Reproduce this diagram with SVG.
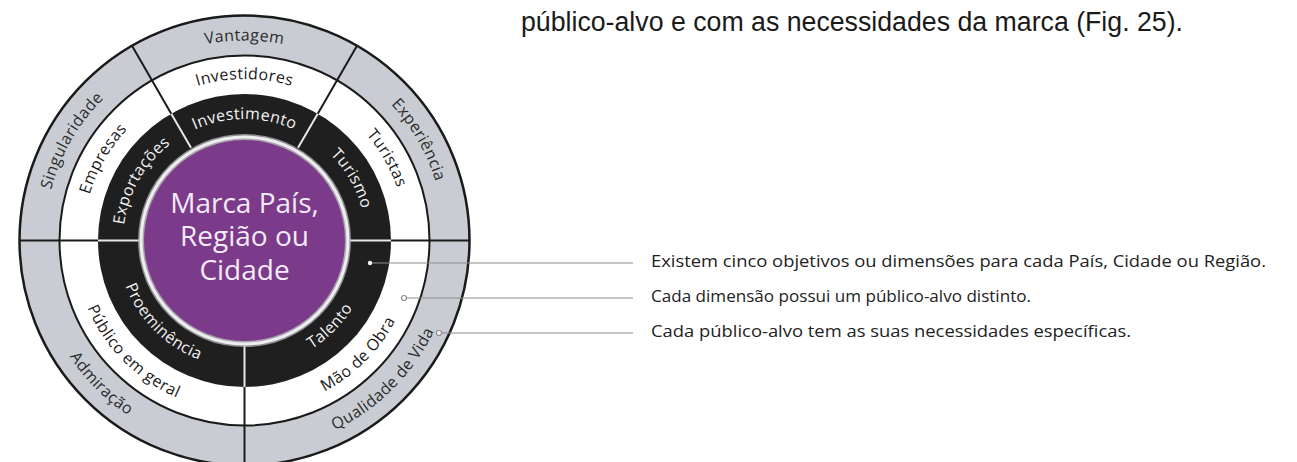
<svg xmlns="http://www.w3.org/2000/svg" width="1297" height="462" viewBox="0 0 1297 462">
<style>
.ring{font-family:"Open Sans","DejaVu Sans",sans-serif;font-size:16px;letter-spacing:0.4px}
.g{fill:#2b2b2b}
.w{fill:#1a1a1a}
.b{fill:#f2f2f2}
.center{font-family:"Open Sans","DejaVu Sans",sans-serif;font-size:28px;fill:#f3ebf6;text-anchor:middle}
.note{font-family:"Open Sans","DejaVu Sans",sans-serif;font-size:16.5px;fill:#222}
.head{font-family:"Liberation Sans",Arial,sans-serif;font-size:27px;fill:#1a1a1a}
.lead{stroke:#8c8c8c;stroke-width:1.2;fill:none}
.divk{stroke:#1a1a1a;stroke-width:2}
.divw{stroke:#e8e8e8;stroke-width:2}
</style>
<defs>
<path id="pg0" d="M -187.94 -68.40 A 200 200 0 0 1 187.94 -68.40"/>
<path id="pgL" d="M -153.2 128.56 A 200 200 0 0 1 34.72 -196.96"/>
<path id="pgR" d="M -34.72 -196.96 A 200 200 0 0 1 153.2 128.56"/>
<path id="pgBR" d="M -88.75 190.32 A 210 210 0 0 0 190.32 -88.75"/>
<path id="pgBL" d="M -190.32 -88.75 A 210 210 0 0 0 88.75 190.32"/>
<path id="pw0" d="M -151.76 -55.23 A 161.5 161.5 0 0 1 151.76 -55.23"/>
<path id="pwL" d="M -123.71 103.81 A 161.5 161.5 0 0 1 28.04 -159.05"/>
<path id="pwR" d="M -28.04 -159.05 A 161.5 161.5 0 0 1 123.71 103.81"/>
<path id="pwBR" d="M -72.26 154.98 A 171 171 0 0 0 154.98 -72.26"/>
<path id="pwBL" d="M -154.98 -72.26 A 171 171 0 0 0 72.26 154.98"/>
<path id="pb0" d="M -114.17 -41.55 A 121.5 121.5 0 0 1 114.17 -41.55"/>
<path id="pbL" d="M -93.07 78.10 A 121.5 121.5 0 0 1 21.09 -119.66"/>
<path id="pbR" d="M -21.09 -119.66 A 121.5 121.5 0 0 1 93.07 78.10"/>
<path id="pbBR" d="M -53.88 115.55 A 127.5 127.5 0 0 0 115.55 -53.88"/>
<path id="pbBL" d="M -115.55 -53.88 A 127.5 127.5 0 0 0 53.88 115.55"/>
</defs>

<text class="head" x="521" y="31" textLength="662" lengthAdjust="spacingAndGlyphs">público-alvo e com as necessidades da marca (Fig. 25).</text>

<g transform="translate(244.5 240.5)">
<g id="rings">
<circle r="225" fill="#c9cdd3" stroke="#1a1a1a" stroke-width="2.5"/>
<circle r="185" fill="#ffffff" stroke="#1a1a1a" stroke-width="2"/>
<circle r="146.5" fill="#1f1f1f"/>
<circle r="106.5" fill="#8e8e94"/>
<circle r="105" fill="#eeeef0"/>
<circle r="102" fill="#a9a3ad"/>
</g>
<g id="connectors-dividers">
<line class="divw" x1="-53.5" y1="-92.66" x2="-73.25" y2="-126.87"/>
<line class="divk" x1="-73.25" y1="-126.87" x2="-112.5" y2="-194.86"/>
<line class="divw" x1="53.5" y1="-92.66" x2="73.25" y2="-126.87"/>
<line class="divk" x1="73.25" y1="-126.87" x2="112.5" y2="-194.86"/>
<line class="divw" x1="106" y1="0" x2="146.5" y2="0"/>
<line class="divk" x1="146.5" y1="0" x2="225" y2="0"/>
<line class="divw" x1="-106" y1="0" x2="-146.5" y2="0"/>
<line class="divk" x1="-146.5" y1="0" x2="-225" y2="0"/>
<line class="divw" x1="0" y1="106" x2="0" y2="146.5"/>
<line class="divk" x1="0" y1="146.5" x2="0" y2="225"/>
</g>
<g id="center-node">
<circle r="100.5" fill="#7b3a8a"/>
<text class="center" x="0" y="-27.5">Marca País,</text>
<text class="center" x="0" y="5.5">Região ou</text>
<text class="center" x="0" y="39.5">Cidade</text>
</g>
<g id="sector-top">
<text class="ring g" text-anchor="middle"><textPath href="#pg0" startOffset="50%">Vantagem</textPath></text>
<text class="ring w" text-anchor="middle"><textPath href="#pw0" startOffset="50%">Investidores</textPath></text>
<text class="ring b" text-anchor="middle"><textPath href="#pb0" startOffset="50%">Investimento</textPath></text>
</g>
<g id="sector-topleft">
<text class="ring g" text-anchor="middle"><textPath href="#pgL" startOffset="50%">Singularidade</textPath></text>
<text class="ring w" text-anchor="middle"><textPath href="#pwL" startOffset="50%">Empresas</textPath></text>
<text class="ring b" text-anchor="middle"><textPath href="#pbL" startOffset="50%">Exportações</textPath></text>
</g>
<g id="sector-topright">
<text class="ring g" text-anchor="middle"><textPath href="#pgR" startOffset="50%">Experiência</textPath></text>
<text class="ring w" text-anchor="middle"><textPath href="#pwR" startOffset="50%">Turistas</textPath></text>
<text class="ring b" text-anchor="middle"><textPath href="#pbR" startOffset="50%">Turismo</textPath></text>
</g>
<g id="sector-bottomright">
<text class="ring g" text-anchor="middle"><textPath href="#pgBR" startOffset="50%">Qualidade de Vida</textPath></text>
<text class="ring w" text-anchor="middle"><textPath href="#pwBR" startOffset="50%">Mão de Obra</textPath></text>
<text class="ring b" text-anchor="middle"><textPath href="#pbBR" startOffset="50%">Talento</textPath></text>
</g>
<g id="sector-bottomleft">
<text class="ring g" text-anchor="middle"><textPath href="#pgBL" startOffset="50%">Admiração</textPath></text>
<text class="ring w" text-anchor="middle"><textPath href="#pwBL" startOffset="50%">Público em geral</textPath></text>
<text class="ring b" text-anchor="middle"><textPath href="#pbBL" startOffset="50%">Proeminência</textPath></text>
</g>
</g>

<g id="connectors">
<line class="lead" x1="370" y1="263" x2="633" y2="263"/>
<line class="lead" x1="406.5" y1="298" x2="633" y2="298"/>
<line class="lead" x1="441.5" y1="333" x2="633" y2="333"/>
<circle cx="370" cy="263" r="2.2" fill="#f2f2f2"/>
<circle cx="404" cy="298" r="2.5" fill="#ffffff" stroke="#8c8c8c" stroke-width="1.2"/>
<circle cx="439" cy="333" r="2.5" fill="#ffffff" stroke="#8c8c8c" stroke-width="1.2"/>
</g>

<g id="notes">
<text class="note" x="651" y="267" textLength="615" lengthAdjust="spacingAndGlyphs">Existem cinco objetivos ou dimensões para cada País, Cidade ou Região.</text>
<text class="note" x="651" y="302" textLength="380" lengthAdjust="spacingAndGlyphs">Cada dimensão possui um público-alvo distinto.</text>
<text class="note" x="651" y="337" textLength="480" lengthAdjust="spacingAndGlyphs">Cada público-alvo tem as suas necessidades específicas.</text>
</g>
</svg>
